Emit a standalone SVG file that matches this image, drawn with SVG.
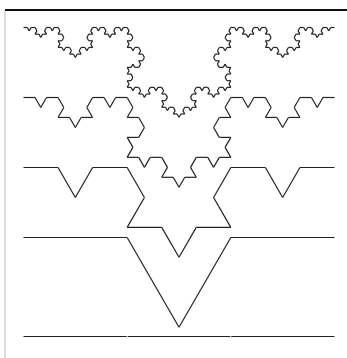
<svg xmlns="http://www.w3.org/2000/svg" xmlns:xlink="http://www.w3.org/1999/xlink" width="347" height="358" viewBox="0 0 347 358">
<style>
.k{fill:none;stroke:#222;stroke-width:1.2;vector-effect:non-scaling-stroke;stroke-linejoin:miter}
.frame-top{stroke:#111;stroke-width:2}
.frame-left{stroke:#c8c8c8;stroke-width:1.2}
</style>
<defs>
<path id="k0" class="k" d="M0,0 H311"/>
<g id="k1">
<use href="#k0" transform="scale(0.333333)"/>
<use href="#k0" transform="translate(103.6667,0) rotate(60) scale(0.333333)"/>
<use href="#k0" transform="translate(155.5,89.7780) rotate(-60) scale(0.333333)"/>
<use href="#k0" transform="translate(207.3333,0) scale(0.333333)"/>
</g>
<g id="k2">
<use href="#k1" transform="scale(0.333333)"/>
<use href="#k1" transform="translate(103.6667,0) rotate(60) scale(0.333333)"/>
<use href="#k1" transform="translate(155.5,89.7780) rotate(-60) scale(0.333333)"/>
<use href="#k1" transform="translate(207.3333,0) scale(0.333333)"/>
</g>
<g id="k3">
<use href="#k2" transform="scale(0.333333)"/>
<use href="#k2" transform="translate(103.6667,0) rotate(60) scale(0.333333)"/>
<use href="#k2" transform="translate(155.5,89.7780) rotate(-60) scale(0.333333)"/>
<use href="#k2" transform="translate(207.3333,0) scale(0.333333)"/>
</g>
<g id="k4">
<use href="#k3" transform="scale(0.333333)"/>
<use href="#k3" transform="translate(103.6667,0) rotate(60) scale(0.333333)"/>
<use href="#k3" transform="translate(155.5,89.7780) rotate(-60) scale(0.333333)"/>
<use href="#k3" transform="translate(207.3333,0) scale(0.333333)"/>
</g>
</defs>
<rect width="347" height="358" fill="#fff"/>
<line class="frame-left" x1="5" y1="10" x2="5" y2="358"/>
<line class="frame-top" x1="5" y1="10" x2="347" y2="10"/>
<g id="level4"><use href="#k4" transform="translate(23.5,27.5)"/></g>
<g id="level3"><use href="#k3" transform="translate(23.5,97.5)"/></g>
<g id="level2"><use href="#k2" transform="translate(23.5,167.5)"/></g>
<g id="level1"><use href="#k1" transform="translate(23.5,237.5)"/></g>
<g id="level0" class="k">
<line x1="23.5" y1="336.5" x2="126.7" y2="336.5"/>
<line x1="127.7" y1="336.5" x2="230.3" y2="336.5"/>
<line x1="231.3" y1="336.5" x2="334.5" y2="336.5"/>
</g>
</svg>
